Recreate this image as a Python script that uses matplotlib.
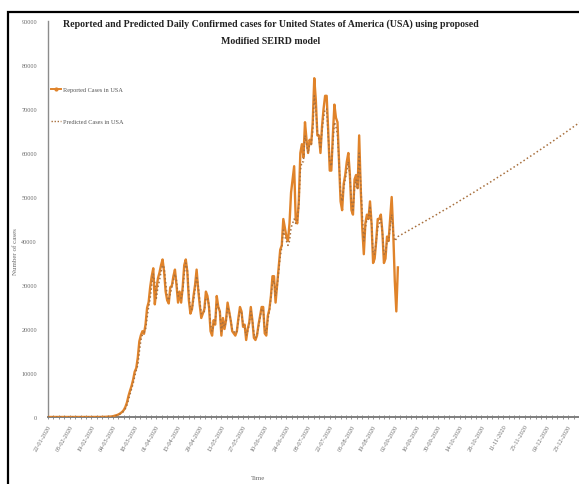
import matplotlib
matplotlib.use("Agg")
import matplotlib.pyplot as plt
from matplotlib.lines import Line2D
from matplotlib.patches import Rectangle
import numpy as np

# ---------------- data ----------------
reported = [
    1, 0, 0, 0, 0, 1, 2, 0, 0, 0, 1, 1, 0, 0, 0, 0, 0, 1, 0, 0,
    0, 0, 0, 0, 0, 1, 0, 0, 2, 0, 0, 3, 6, 3, 8,
    30, 25, 33, 60, 75, 100, 110, 170, 290, 380,
    500, 680, 900, 1200, 1600, 2300, 3300, 4800, 6000, 7100,
    8500, 10300, 11100, 13500, 17200, 18600, 19500, 18900, 21000, 24800,
    26100, 29500, 32000, 33800, 25600, 29000, 31500, 32800, 34500, 35800,
    33000, 28500, 26500, 25800, 29500, 29800, 32000, 33500, 30000, 26000,
    28500, 26000, 29500, 34500, 35800, 33000, 26500, 23500, 24500, 27500,
    30000, 33500, 29000, 25500, 22500, 23500, 24500, 28500, 27500, 25000,
    19500, 18500, 22000, 21000, 27500, 25000, 24000, 18500, 22500, 20000,
    22000, 26000, 24000, 22000, 19500, 19000, 18500, 19500, 22500, 25000,
    24000, 20500, 21000, 17500, 20000, 21500, 25000, 22000, 18000, 17500,
    18500, 21000, 23000, 25000, 25000, 19000, 18500, 23000, 24500, 27500,
    32000, 32000, 26000, 30000, 34000, 38000, 39000, 45000, 43000, 41000,
    40000, 44000, 51000, 54000, 57000, 45000, 44000, 49000, 60000, 62000,
    59000, 67000, 63000, 60000, 63000, 62000, 67000, 77000, 72000, 64000,
    64000, 60000, 66000, 70000, 73000, 73000, 65000, 56000, 56000, 64000,
    71000, 68000, 67000, 58000, 49000, 47000, 53000, 55000, 58000, 60000,
    55000, 47000, 46000, 54000, 55000, 52000, 64000, 52000, 43000, 37000,
    44000, 46000, 45000, 49000, 44000, 35000, 36000, 40000, 45000, 45000,
    46000, 42000, 35000, 36000, 41000, 40000, 45000, 50000, 42000, 31000,
    24000, 34000,
]

predicted = [
    0, 0, 0, 0, 0, 0, 0, 0, 0, 0, 0, 0, 0, 0, 0, 0, 0, 0, 0, 0,
    0, 0, 0, 0, 0, 0, 0, 0, 0, 0, 0, 0, 0, 0, 0,
    20, 30, 30, 40, 60, 80, 100, 130, 200, 300,
    400, 550, 750, 1000, 1350, 1900, 2700, 3900, 5200, 6400,
    7600, 9200, 10600, 11800, 14800, 17500, 18700, 19200, 19800, 22500,
    25000, 27000, 30000, 32500, 30500, 27000, 29500, 31000, 33000, 34500,
    34000, 30500, 27500, 26500, 28000, 29500, 31000, 32500, 31000, 27500,
    27500, 27000, 28500, 32500, 35000, 33500, 28000, 24500, 24500, 26500,
    29000, 32000, 30000, 26500, 23500, 23500, 24000, 27000, 27000, 25500,
    21000, 19500, 21000, 21500, 26000, 25000, 24000, 19500, 21500, 20500,
    21500, 25000, 24000, 22000, 20000, 19500, 19000, 19500, 22000, 24000,
    24000, 21000, 20500, 18500, 19500, 21000, 24000, 22000, 19000, 18000,
    18500, 20500, 22500, 24500, 24500, 20000, 19000, 22000, 24000, 27000,
    30500, 31000, 27500, 29500, 33000, 36500, 38500, 42500, 41000, 40000,
    39000, 40000, 43000, 44000, 45000, 44000, 44500, 48000, 56000, 58000,
    58000, 64000, 62000, 60000, 62000, 62000, 65000, 73000, 70000, 65000,
    63000, 61000, 65000, 68000, 70000, 70000, 64000, 58000, 57000, 62000,
    67000, 66000, 64000, 58000, 51000, 49000, 52000, 54000, 56000, 58000,
    55000, 49000, 47000, 52000, 54000, 52000, 60000, 53000, 46000, 40000,
    43000, 45000, 45000, 48000, 44000, 37000, 37000, 40000, 43000, 44000,
    45000, 42000, 37000, 37000, 40000, 40000, 43000, 46000, 42000, 40000,
    40500, 41000,
    41200, 41400, 41600, 41800, 42000, 42200, 42400, 42600, 42800, 43000,
    43200, 43400, 43600, 43800, 44000, 44200, 44400, 44600, 44800, 45000,
    45200, 45400, 45600, 45800, 46000, 46250, 46450, 46650, 46850, 47050,
    47250, 47450, 47650, 47850, 48100, 48300, 48500, 48700, 48900, 49150,
    49350, 49550, 49800, 50000, 50200, 50400, 50650, 50850, 51050, 51300,
    51500, 51700, 51950, 52150, 52350, 52600, 52800, 53000, 53250, 53450,
    53700, 53900, 54150, 54350, 54600, 54800, 55000, 55250, 55450, 55700,
    55900, 56150, 56350, 56600, 56800, 57050, 57250, 57500, 57700, 57950,
    58200, 58400, 58650, 58900, 59100, 59350, 59600, 59800, 60050, 60300,
    60500, 60750, 61000, 61250, 61450, 61700, 61950, 62200, 62400, 62650,
    62900, 63150, 63400, 63650, 63850, 64100, 64350, 64600, 64850, 65100,
    65350, 65600, 65850, 66100, 66350, 66600, 66850, 67100, 67350, 67600,
]

tick_labels = [
    "22-01-2020", "05-02-2020", "19-02-2020", "04-03-2020", "18-03-2020",
    "01-04-2020", "15-04-2020", "29-04-2020", "13-05-2020", "27-05-2020",
    "10-06-2020", "24-06-2020", "08-07-2020", "22-07-2020", "05-08-2020",
    "19-08-2020", "02-09-2020", "16-09-2020", "30-09-2020", "14-10-2020",
    "28-10-2020", "11-11-2020", "25-11-2020", "09-12-2020", "23-12-2020",
]
label_step_days = 14
y_ticks = [0, 10000, 20000, 30000, 40000, 50000, 60000, 70000, 80000, 90000]

# ---------------- figure ----------------
W, H = 579, 485
fig = plt.figure(figsize=(W / 100, H / 100), dpi=100)
fig.patch.set_facecolor("white")

serif = ["Liberation Serif", "DejaVu Serif"]

ax = fig.add_axes([48 / W, 67 / H, 531 / W, 396 / H])
ax.set_facecolor("white")

days_r = np.arange(len(reported))
days_p = np.arange(len(predicted))

c_rep = "#E0832A"
c_pred = "#A8703E"

ax.plot(days_r, reported, color=c_rep, lw=1.7, solid_joinstyle="round", zorder=3)
ax.plot(days_p, predicted, color=c_pred, lw=1.1, linestyle=(0, (1, 1.6)), zorder=4)

ax.set_xlim(0, 531 / 1.571)
ax.set_ylim(0, 90000)

for s in ["top", "right"]:
    ax.spines[s].set_visible(False)
ax.spines["left"].set_color("#8c8c8c")
ax.spines["bottom"].set_color("#7f7f7f")
ax.spines["left"].set_linewidth(1.0)
ax.spines["bottom"].set_linewidth(1.4)

ax.set_yticks(y_ticks)
ax.set_yticklabels([str(v) for v in y_ticks], fontsize=4.5, color="#6a6a6a",
                   fontfamily=serif)
ax.tick_params(axis="y", length=0, pad=8)

xt = np.arange(len(tick_labels)) * label_step_days
ax.set_xticks(xt)
ax.set_xticklabels(tick_labels, rotation=60, ha="right", va="top",
                   rotation_mode="anchor", fontsize=4.5, color="#6a6a6a",
                   fontfamily=serif)
ax.set_xticks(np.arange(0, 345, label_step_days / 4), minor=True)
ax.tick_params(axis="x", which="both", direction="inout", length=3,
               color="#7f7f7f", width=0.6, pad=3)

ax.set_ylabel("Number of cases", fontsize=5, color="#6a6a6a", fontfamily=serif,
              labelpad=10)
ax.yaxis.set_label_coords(-30 / 531, 0.42)
ax.set_xlabel("Time", fontsize=5, color="#6a6a6a", fontfamily=serif)
ax.xaxis.set_label_coords(210 / 531, -58 / 396)

handles = [
    Line2D([0], [0], color=c_rep, lw=1.4, marker="o", markersize=2),
    Line2D([0], [0], color=c_pred, lw=1.0, linestyle=(0, (1, 1.2))),
]
leg = ax.legend(handles, ["Reported Cases in USA", "Predicted Cases in USA"],
                loc="upper left", bbox_to_anchor=(0.0, 0.84), frameon=False,
                prop={"family": serif, "size": 4.5}, labelspacing=4.2,
                handlelength=1.6, handletextpad=0.4, borderaxespad=0.0)
for t in leg.get_texts():
    t.set_color("#555555")

fig.text(271 / W, 1 - 24 / H,
         "Reported and Predicted Daily Confirmed cases for United States of America (USA) using proposed",
         ha="center", va="center", fontsize=7.1, fontweight="bold",
         fontfamily=serif, color="#222222")
fig.text(271 / W, 1 - 42 / H, "Modified SEIRD model", ha="center", va="center",
         fontsize=7.1, fontweight="bold", fontfamily=serif, color="#222222")

fig.patches.append(Rectangle((8 / W, -0.05), 1.2, 1 - 13 / H + 0.05,
                             transform=fig.transFigure, fill=False,
                             edgecolor="black", lw=1.6, zorder=10))

fig.savefig("out.png", dpi=100, facecolor="white")
